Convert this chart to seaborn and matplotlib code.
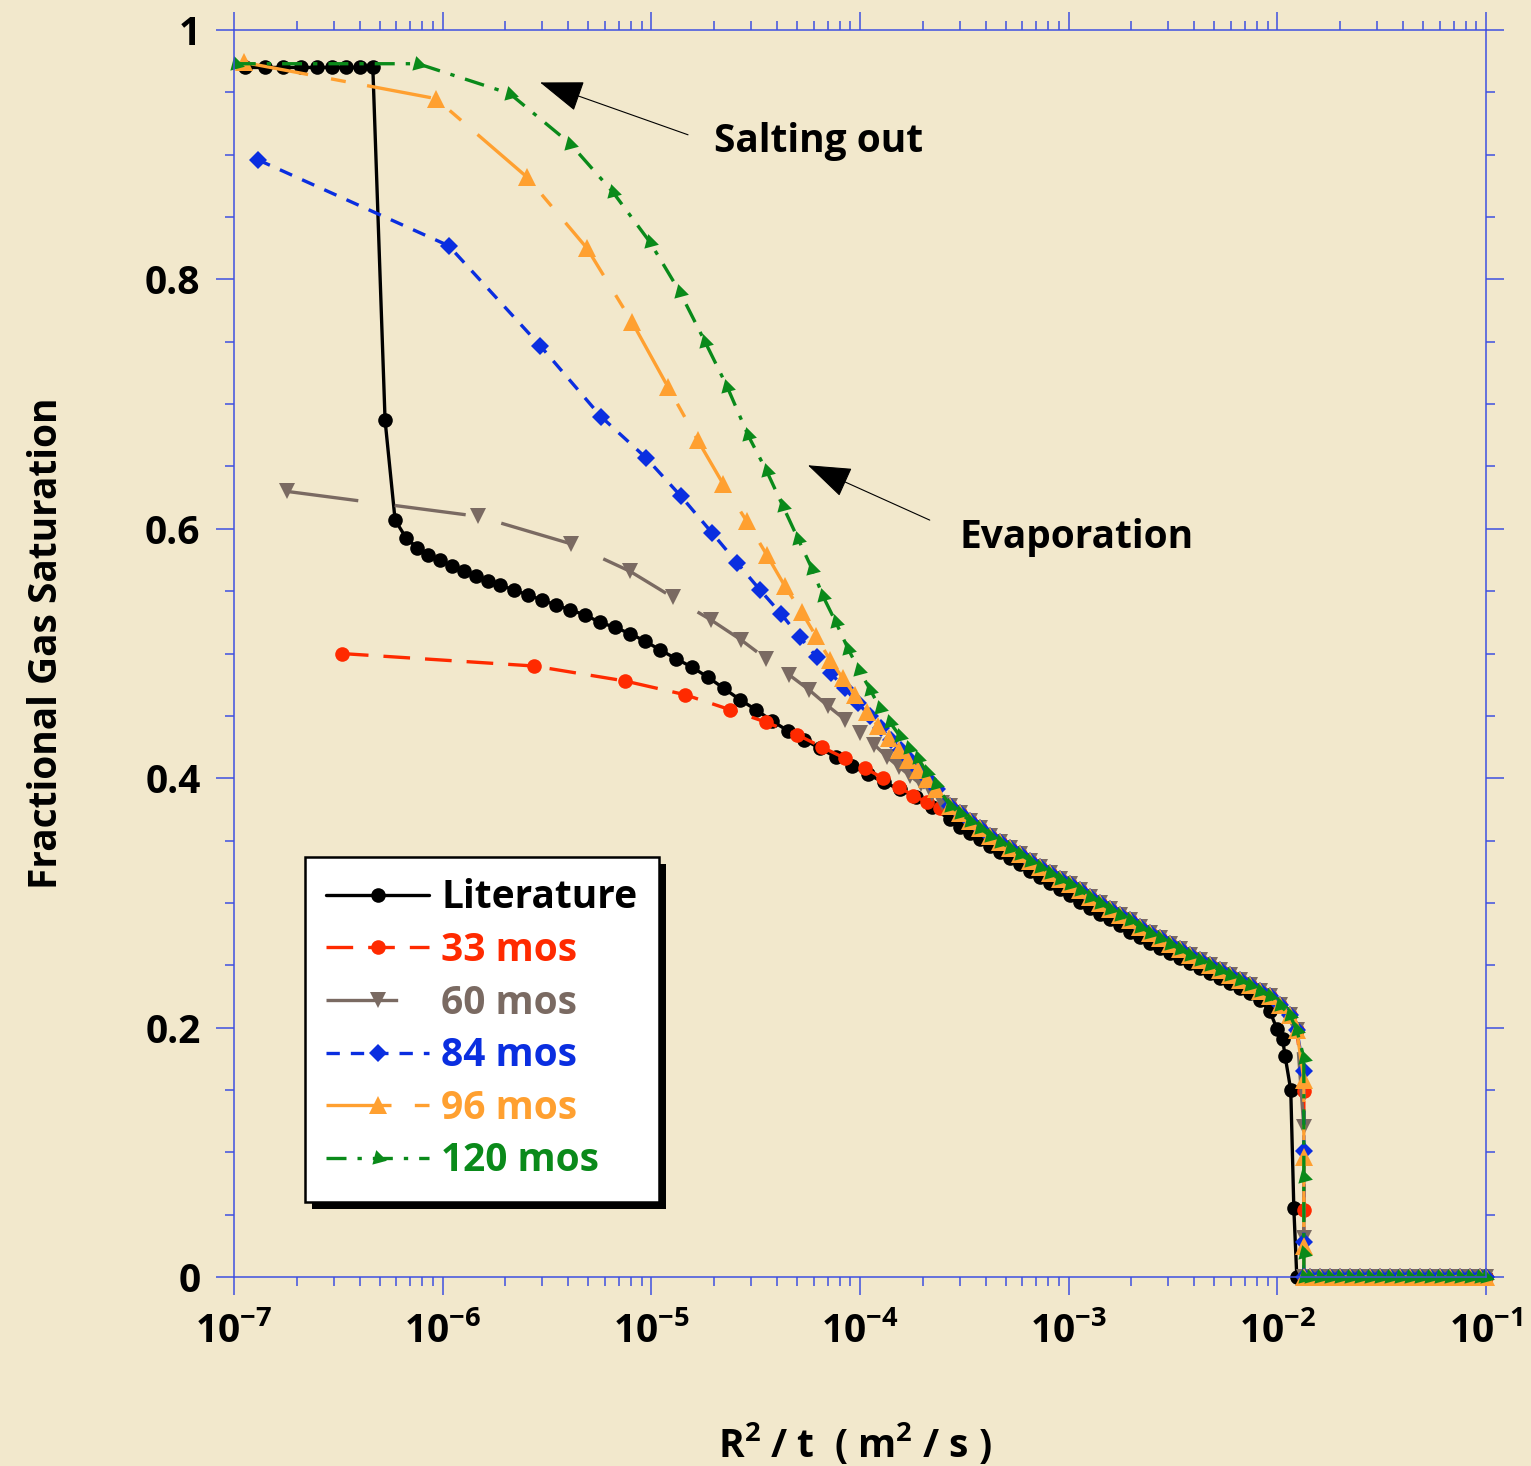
import matplotlib
matplotlib.use("Agg")
import matplotlib.pyplot as plt
import matplotlib.patheffects as pe
from matplotlib.ticker import FixedLocator, MultipleLocator, FuncFormatter
import numpy as np
import pandas as pd
import seaborn as sns

# Series (x = R^2/t in m^2/s, y = fractional gas saturation)
NAMES = ["Literature", "33 mos", "60 mos", "84 mos", "96 mos", "120 mos"]
COLORS = ["#000000", "#ff2a00", "#7a6a62", "#0a2ee0", "#ffa030", "#0a8a1a"]

LIT_X = [1.13e-7, 1.41e-7, 1.72e-7, 2.09e-7, 2.50e-7, 2.95e-7, 3.44e-7, 4.02e-7, 4.63e-7,
         5.30e-7, 5.92e-7, 6.67e-7, 7.53e-7, 8.51e-7,
         9.71e-7, 1.11e-6, 1.27e-6, 1.44e-6, 1.65e-6, 1.88e-6, 2.20e-6, 2.56e-6, 2.99e-6,
         3.49e-6, 4.08e-6, 4.81e-6, 5.68e-6, 6.70e-6, 7.90e-6, 9.32e-6, 1.10e-5, 1.31e-5,
         1.57e-5, 1.87e-5, 2.23e-5, 2.66e-5, 3.17e-5, 3.79e-5, 4.52e-5, 5.39e-5, 6.43e-5,
         7.67e-5, 9.15e-5, 1.09e-4, 1.30e-4, 1.55e-4, 1.85e-4, 2.21e-4,
         2.70e-4, 3.01e-4, 3.37e-4, 3.76e-4, 4.20e-4, 4.69e-4, 5.23e-4, 5.84e-4, 6.53e-4,
         7.29e-4, 8.14e-4, 9.09e-4, 1.01e-3, 1.13e-3, 1.27e-3, 1.41e-3, 1.58e-3, 1.76e-3,
         1.97e-3, 2.20e-3, 2.45e-3, 2.74e-3, 3.06e-3, 3.42e-3, 3.81e-3, 4.26e-3, 4.76e-3,
         5.31e-3, 5.93e-3, 6.62e-3, 7.39e-3, 8.26e-3, 9.22e-3,
         9.96e-3, 1.06e-2, 1.09e-2, 1.16e-2, 1.20e-2, 1.24e-2]
LIT_Y = [0.970, 0.970, 0.970, 0.970, 0.970, 0.970, 0.970, 0.970, 0.970,
         0.687, 0.607, 0.593, 0.585, 0.579,
         0.575, 0.570, 0.566, 0.562, 0.558, 0.555, 0.551, 0.547, 0.543,
         0.539, 0.535, 0.531, 0.525, 0.521, 0.516, 0.510, 0.503, 0.496,
         0.489, 0.481, 0.472, 0.463, 0.455, 0.446, 0.438, 0.431, 0.424,
         0.417, 0.410, 0.403, 0.397, 0.391, 0.385, 0.377,
         0.367, 0.361, 0.356, 0.351, 0.346, 0.341, 0.336, 0.331, 0.326,
         0.321, 0.316, 0.311, 0.306, 0.301, 0.296, 0.291, 0.287, 0.282,
         0.277, 0.273, 0.268, 0.264, 0.260, 0.256, 0.252, 0.248, 0.244,
         0.240, 0.236, 0.232, 0.228, 0.222, 0.213,
         0.199, 0.191, 0.177, 0.150, 0.055, 0.0]

M33_X = [3.29e-7, 2.74e-6, 7.48e-6, 1.45e-5, 2.38e-5, 3.54e-5, 4.99e-5, 6.57e-5,
         8.48e-5, 1.06e-4, 1.29e-4, 1.54e-4, 1.80e-4, 2.09e-4, 2.42e-4]
M33_Y = [0.500, 0.490, 0.478, 0.467, 0.455, 0.445, 0.435, 0.425,
         0.416, 0.408, 0.400, 0.393, 0.386, 0.381, 0.376]

M60_X = [1.80e-7, 1.48e-6, 4.12e-6, 7.90e-6, 1.27e-5, 1.93e-5, 2.69e-5, 3.54e-5, 4.57e-5,
         5.69e-5, 7.02e-5, 8.48e-5, 1.00e-4, 1.17e-4, 1.35e-4, 1.54e-4, 1.74e-4, 1.96e-4,
         2.21e-4, 2.47e-4]
M60_Y = [0.630, 0.610, 0.588, 0.566, 0.545, 0.527, 0.511, 0.496, 0.483,
         0.471, 0.458, 0.447, 0.436, 0.427, 0.417, 0.409, 0.402, 0.395,
         0.387, 0.380]

M84_X = [1.30e-7, 1.07e-6, 2.93e-6, 5.74e-6, 9.43e-6, 1.39e-5, 1.95e-5, 2.57e-5, 3.32e-5,
         4.18e-5, 5.16e-5, 6.22e-5, 7.26e-5, 8.48e-5, 9.78e-5, 1.12e-4, 1.26e-4, 1.41e-4,
         1.57e-4, 1.74e-4, 1.92e-4, 2.12e-4, 2.34e-4]
M84_Y = [0.896, 0.827, 0.747, 0.690, 0.657, 0.626, 0.597, 0.573, 0.551,
         0.532, 0.513, 0.497, 0.484, 0.472, 0.460, 0.450, 0.440, 0.431,
         0.423, 0.415, 0.407, 0.399, 0.391]

M96_X = [1.12e-7, 9.29e-7, 2.54e-6, 4.92e-6, 8.08e-6, 1.20e-5, 1.67e-5, 2.21e-5, 2.87e-5,
         3.58e-5, 4.37e-5, 5.27e-5, 6.15e-5, 7.18e-5, 8.29e-5, 9.46e-5, 1.08e-4, 1.22e-4,
         1.38e-4, 1.54e-4, 1.70e-4, 1.90e-4, 2.09e-4, 2.31e-4]
M96_Y = [0.974, 0.945, 0.882, 0.825, 0.766, 0.714, 0.671, 0.636, 0.606,
         0.579, 0.554, 0.533, 0.514, 0.495, 0.480, 0.467, 0.453, 0.442,
         0.432, 0.423, 0.415, 0.407, 0.399, 0.391]

M120_X = [1.02e-7, 7.62e-7, 2.10e-6, 4.08e-6, 6.55e-6, 9.85e-6, 1.37e-5, 1.81e-5, 2.31e-5,
          2.91e-5, 3.58e-5, 4.28e-5, 5.05e-5, 5.89e-5, 6.65e-5, 7.67e-5, 8.76e-5, 9.89e-5,
          1.12e-4, 1.25e-4, 1.39e-4, 1.55e-4, 1.72e-4, 1.90e-4, 2.09e-4, 2.31e-4]
M120_Y = [0.973, 0.973, 0.949, 0.909, 0.870, 0.830, 0.790, 0.750, 0.714,
          0.675, 0.646, 0.618, 0.592, 0.568, 0.546, 0.525, 0.504, 0.487,
          0.471, 0.456, 0.445, 0.434, 0.424, 0.416, 0.405, 0.395]

# where the field-data curves run together
MERGED_X = [2.70e-4, 3.01e-4, 3.37e-4, 3.76e-4, 4.20e-4, 4.69e-4, 5.23e-4, 5.84e-4, 6.53e-4,
            7.29e-4, 8.14e-4, 9.09e-4, 1.01e-3, 1.13e-3, 1.27e-3, 1.41e-3, 1.58e-3, 1.76e-3,
            1.97e-3, 2.20e-3, 2.45e-3, 2.74e-3, 3.06e-3, 3.42e-3, 3.81e-3, 4.26e-3, 4.76e-3,
            5.31e-3, 5.93e-3, 6.62e-3, 7.39e-3, 8.26e-3, 9.22e-3, 1.03e-2, 1.15e-2, 1.24e-2]
MERGED_Y = [0.378, 0.372, 0.366, 0.360, 0.354, 0.349, 0.344, 0.339, 0.334,
            0.329, 0.324, 0.319, 0.315, 0.310, 0.305, 0.300, 0.295, 0.290,
            0.286, 0.281, 0.276, 0.272, 0.267, 0.263, 0.258, 0.254, 0.250,
            0.246, 0.242, 0.238, 0.234, 0.229, 0.225, 0.218, 0.210, 0.198]

# front: vertical drop at one x, then zero out to 0.1
DROP_X = 1.34e-2
M33_DROP = [0.149, 0.054, 0.0]
M60_DROP = [0.120, 0.031, 0.0]
M84_DROP = [0.165, 0.101, 0.028, 0.0]
M96_DROP = [0.158, 0.096, 0.025, 0.0]
M120_DROP = [0.176, 0.080, 0.019, 0.0]
ZERO_X = [1.43e-2, 1.60e-2, 1.79e-2, 2.00e-2, 2.23e-2, 2.49e-2, 2.78e-2, 3.10e-2, 3.47e-2,
          3.87e-2, 4.32e-2, 4.83e-2, 5.39e-2, 6.02e-2, 6.72e-2, 7.50e-2, 8.38e-2, 9.36e-2,
          1.0e-1]

BG = "#f2e8cc"
SPINE = "#3f50e0"

series = [(NAMES[0], LIT_X + ZERO_X, LIT_Y + [0.0] * len(ZERO_X))]
for name, hx, hy, drop in [(NAMES[1], M33_X, M33_Y, M33_DROP),
                           (NAMES[2], M60_X, M60_Y, M60_DROP),
                           (NAMES[3], M84_X, M84_Y, M84_DROP),
                           (NAMES[4], M96_X, M96_Y, M96_DROP),
                           (NAMES[5], M120_X, M120_Y, M120_DROP)]:
    xs = hx + MERGED_X + [DROP_X] * len(drop) + ZERO_X
    ys = hy + MERGED_Y + drop + [0.0] * len(ZERO_X)
    series.append((name, xs, ys))

df = pd.concat([pd.DataFrame({"x": xs, "y": ys, "series": n}) for n, xs, ys in series],
               ignore_index=True)

sns.set_style("ticks")
plt.rcParams["font.family"] = ["Open Sans", "DejaVu Sans"]
plt.rcParams["font.weight"] = "bold"
plt.rcParams["text.color"] = "black"
plt.rcParams["axes.labelcolor"] = "black"
plt.rcParams["mathtext.fontset"] = "custom"
plt.rcParams["mathtext.rm"] = "Open Sans:bold"
plt.rcParams["mathtext.bf"] = "Open Sans:bold"
plt.rcParams["mathtext.it"] = "Open Sans:italic"

fig = plt.figure(figsize=(15.31, 14.66), dpi=100)
fig.patch.set_facecolor(BG)
ax = fig.add_axes([0.1528, 0.1289, 0.8178, 0.8506])
ax.set_facecolor(BG)
ax.set_xscale("log")

palette = dict(zip(NAMES, COLORS))
dashes = {NAMES[0]: "", NAMES[1]: (8, 4.5), NAMES[2]: (21.5, 11), NAMES[3]: (4, 3.3),
          NAMES[4]: (19.5, 7, 4.5, 6.5), NAMES[5]: (6, 3.3, 1.3, 3.3)}
markers = {NAMES[0]: "o", NAMES[1]: "o", NAMES[2]: "v", NAMES[3]: "D",
           NAMES[4]: "^", NAMES[5]: (3, 0, 15)}

sns.lineplot(data=df, x="x", y="y", hue="series", style="series",
             hue_order=NAMES, style_order=NAMES, palette=palette,
             dashes=dashes, markers=markers, sort=False, estimator=None,
             errorbar=None, linewidth=2.4, markersize=10.5, markeredgewidth=0,
             clip_on=False, legend=False, ax=ax)
ax.lines[2].set_markersize(12)
ax.lines[3].set_markersize(9)
ax.lines[4].set_markersize(12.5)
ax.lines[5].set_markersize(12.5)

ax.set_xlim(1e-7, 1e-1)
ax.set_ylim(0, 1)
ax.yaxis.set_major_locator(FixedLocator([0, 0.2, 0.4, 0.6, 0.8, 1.0]))
ax.yaxis.set_minor_locator(MultipleLocator(0.05))
ax.yaxis.set_major_formatter(FuncFormatter(lambda v, p: f"{v:g}"))
ax.xaxis.set_major_formatter(FuncFormatter(
    lambda v, p: r"$\mathbf{10^{%d}}$" % int(round(np.log10(v)))))

for s in ax.spines.values():
    s.set_visible(True)
    s.set_color(SPINE)
    s.set_linewidth(1.1)
ax.tick_params(which="both", direction="out", top=True, right=True,
               color=SPINE, width=1.1, labelsize=28, labelcolor="black")
ax.tick_params(which="major", length=13)
ax.tick_params(which="minor", length=6.5)
ax.tick_params(axis="x", which="major", pad=12)
ax.tick_params(axis="y", which="major", pad=11)

ax.set_xlabel(r"R$^{\mathbf{2}}$ / t  ( m$^{\mathbf{2}}$ / s )", fontsize=28,
              fontweight="bold", color="black")
ax.set_ylabel("Fractional Gas Saturation", fontsize=28, fontweight="bold", color="black")
ax.xaxis.set_label_coords(0.496, -0.115)
ax.yaxis.set_label_coords(-0.134, 0.508)

# annotations
arrow = dict(arrowstyle="-|>,head_length=1.4,head_width=0.5", color="black",
             lw=0.8, shrinkA=0, shrinkB=0, mutation_scale=20)
ax.annotate("", xy=(2.93e-6, 0.958), xytext=(1.50e-5, 0.916), arrowprops=arrow)
ax.text(2.00e-5, 0.911, "Salting out", fontsize=28, fontweight="bold",
        color="black", ha="left", va="center")
ax.annotate("", xy=(5.63e-5, 0.651), xytext=(2.16e-4, 0.607), arrowprops=arrow)
ax.text(3.01e-4, 0.593, "Evaporation", fontsize=28, fontweight="bold",
        color="black", ha="left", va="center")

leg = ax.legend(handles=ax.lines[:6], labels=NAMES, loc="upper left",
                bbox_to_anchor=(0.0567, 0.3368), borderaxespad=0, frameon=True,
                fancybox=False, framealpha=1, facecolor="white", edgecolor="black",
                prop={"size": 28, "weight": "bold"}, handlelength=2.65,
                handletextpad=0.31, borderpad=0.55, labelspacing=0.35)
leg.get_frame().set_linewidth(1.8)
leg.get_frame().set_path_effects([
    pe.SimplePatchShadow(offset=(5, -5), shadow_rgbFace="black", alpha=1.0),
    pe.Normal()])
for t, c in zip(leg.get_texts(), COLORS):
    t.set_color(c)

fig.savefig("out.png", dpi=100, facecolor=BG)
